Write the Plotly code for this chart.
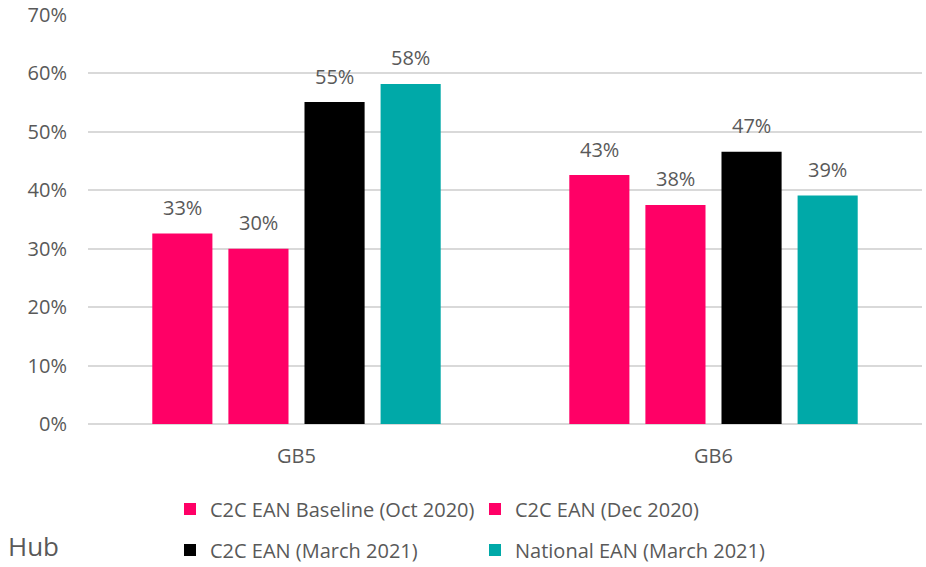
import plotly.graph_objects as go

categories = ["GB5", "GB6"]
series_names = [
    "C2C EAN Baseline (Oct 2020)",
    "C2C EAN (Dec 2020)",
    "C2C EAN (March 2021)",
    "National EAN (March 2021)",
]
baseline_oct2020 = [0.326, 0.426]
dec2020 = [0.300, 0.375]
march2021 = [0.551, 0.466]
national_march2021 = [0.582, 0.391]
y_ticks = [0, 0.1, 0.2, 0.3, 0.4, 0.5, 0.6, 0.7]

series_values = [baseline_oct2020, dec2020, march2021, national_march2021]
colors = ["#FF0066", "#FF0066", "#000000", "#00A9A8"]
legends = ["legend", "legend", "legend2", "legend2"]

FONT = "Open Sans"
GREY = "#595959"
FS = 20
BARGAP = 0.27
BARGROUPGAP = 0.21

W, H = 926, 567
plot_l, plot_r, plot_t, plot_b = 88, 922, 15, 424
pw, ph = plot_r - plot_l, plot_b - plot_t


def px_x(x):
    return (x - plot_l) / pw


def px_y(y):
    return (plot_b - y) / ph


fig = go.Figure()
for name, vals, col, lg in zip(series_names, series_values, colors, legends):
    fig.add_trace(go.Bar(
        x=categories, y=vals, name=name, legend=lg,
        marker=dict(color=col, line=dict(width=0)),
    ))

# data labels positioned through the category axis
n = len(series_values)
slot = (1 - BARGAP) / n
for i, vals in enumerate(series_values):
    for j, v in enumerate(vals):
        xpos = j - (1 - BARGAP) / 2 + (i + 0.5) * slot
        fig.add_annotation(
            x=xpos, y=v, xref="x", yref="y", text=f"{v:.0%}",
            showarrow=False, yanchor="middle", yshift=26,
            font=dict(family=FONT, size=FS, color=GREY),
        )

fig.add_annotation(
    x=px_x(6), y=px_y(546), xref="paper", yref="paper", text="Hub",
    showarrow=False, xanchor="left", yanchor="middle",
    font=dict(family=FONT, size=26, color=GREY),
)

legend_common = dict(
    orientation="h", xanchor="left", yanchor="middle",
    font=dict(family=FONT, size=FS, color=GREY),
    entrywidth=260, entrywidthmode="pixels",
    bgcolor="rgba(0,0,0,0)", itemclick=False, itemdoubleclick=False,
)

fig.update_layout(
    width=W, height=H,
    margin=dict(l=plot_l, r=W - plot_r, t=plot_t, b=H - plot_b, autoexpand=False),
    paper_bgcolor="white", plot_bgcolor="white",
    barmode="group", bargap=BARGAP, bargroupgap=BARGROUPGAP,
    font=dict(family=FONT, size=FS, color=GREY),
    showlegend=True,
    legend=dict(x=px_x(170), y=px_y(509), **legend_common),
    legend2=dict(x=px_x(170), y=px_y(550), **legend_common),
    xaxis=dict(
        type="category", showgrid=False, showline=False, zeroline=False,
        tickfont=dict(family=FONT, size=FS, color=GREY),
        ticklabelstandoff=18, ticks="",
    ),
    yaxis=dict(
        range=[0, 0.7], tickvals=y_ticks, tickformat=".0%",
        showgrid=True, gridcolor="#D9D9D9", gridwidth=1.5,
        zeroline=True, zerolinecolor="#D9D9D9", zerolinewidth=1.5,
        showline=False, ticks="",
        tickfont=dict(family=FONT, size=FS, color=GREY),
        ticklabelstandoff=20,
    ),
)

fig.write_html(
    "out.html",
    config={"displayModeBar": False},
    post_script="document.body.style.margin='0';document.body.style.overflow='hidden';",
)
